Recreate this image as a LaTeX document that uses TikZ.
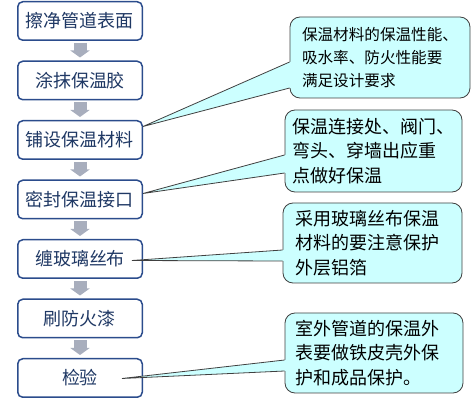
\documentclass[tikz,border=0pt]{standalone}
\usepackage{fontspec}
\setmainfont{Noto Sans CJK SC}
\usetikzlibrary{arrows.meta, positioning, calc}
\definecolor{boxline}{HTML}{2B4C8C}
\definecolor{boxtext}{HTML}{1F3864}
\definecolor{notefill}{HTML}{CCFFFF}
\definecolor{noteline}{HTML}{404040}
\definecolor{flowgray}{HTML}{A8AEBD}
\tikzset{box/.style={rectangle,draw=boxline,line width=1.5pt,rounded corners=5pt,fill=white,text=boxtext,font=\fontsize{18pt}{22pt}\selectfont,minimum width=124.5pt,minimum height=38.5pt,inner sep=0pt},line/.style={draw=flowgray,line width=13pt,shorten <=2pt,shorten >=3pt,-{Triangle[length=7pt 0 0,width=19pt 0 0]}},note/.style={rectangle,draw=noteline,line width=0.8pt,rounded corners=10pt,fill=notefill,align=left,inner ysep=0pt,font=\fontsize{18pt}{24.5pt}\selectfont},pointer/.style={draw=noteline,line width=0.8pt}}

\begin{document}
\begin{tikzpicture}[x=1pt,y=-1pt,node distance=19.5pt]
\useasboundingbox (0,0) rectangle (475,401);
\node[box] (s1) at (80,21) {擦净管道表面};
\node[box, below=of s1] (s2) {涂抹保温胶};
\node[box, below=of s2] (s3) {铺设保温材料};
\node[box, below=of s3] (s4) {密封保温接口};
\node[box, below=of s4] (s5) {缠玻璃丝布};
\node[box, below=of s5] (s6) {刷防火漆};
\node[box, below=of s6] (s7) {检验};
\draw[line] (s1) -- (s2);
\draw[line] (s2) -- (s3);
\draw[line] (s3) -- (s4);
\draw[line] (s4) -- (s5);
\draw[line] (s5) -- (s6);
\draw[line] (s6) -- (s7);
\node[note, text width=156pt, inner xsep=12pt, minimum height=81pt, font=\fontsize{15.6pt}{23pt}\selectfont] (n1) at (380,57.5) {保温材料的保温性能、\\吸水率、防火性能要\\满足设计要求};
\node[note, text width=162pt, inner xsep=7.5pt, minimum height=82pt] (n2) at (373.5,151) {保温连接处、阀门、\\弯头、穿墙出应重\\点做好保温};
\node[note, text width=155pt, inner xsep=12pt, minimum height=80pt] (n3) at (372.5,243) {采用玻璃丝布保温\\材料的要注意保护\\外层铝箔};
\node[note, text width=158pt, inner xsep=10pt, minimum height=80pt] (n4) at (374,353) {室外管道的保温外\\表要做铁皮壳外保\\护和成品保护。};
\coordinate (t1) at ($(s3.east)+(0,-13.5)$);
\coordinate (t2) at ($(s4.east)+(0,-6)$);
\coordinate (t3) at ($(s5.east)+(-11,1.5)$);
\coordinate (t4) at ($(s7.east)+(-21,0.5)$);
\coordinate (n1a) at ($(n1.west)+(0,4.5)$);
\coordinate (n1b) at ($(n1.west)+(0,30.5)$);
\coordinate (n2a) at ($(n2.west)+(0,4)$);
\coordinate (n2b) at ($(n2.west)+(0,22)$);
\coordinate (n3a) at ($(n3.west)+(0,7)$);
\coordinate (n3b) at ($(n3.west)+(0,18)$);
\coordinate (n4a) at ($(n4.west)+(0,7)$);
\coordinate (n4b) at ($(n4.west)+(0,18)$);
\fill[notefill] ($(n1a)+(1.5,0)$) -- (n1a) -- (t1) -- (n1b) -- ($(n1b)+(1.5,0)$) -- cycle;
\fill[notefill] ($(n2a)+(1.5,0)$) -- (n2a) -- (t2) -- (n2b) -- ($(n2b)+(1.5,0)$) -- cycle;
\fill[notefill] ($(n3a)+(1.5,0)$) -- (n3a) -- (t3) -- (n3b) -- ($(n3b)+(1.5,0)$) -- cycle;
\fill[notefill] ($(n4a)+(1.5,0)$) -- (n4a) -- (t4) -- (n4b) -- ($(n4b)+(1.5,0)$) -- cycle;
\draw[pointer] (n1a) -- (t1) -- (n1b);
\draw[pointer] (n2a) -- (t2) -- (n2b);
\draw[pointer] (n3a) -- (t3) -- (n3b);
\draw[pointer] (n4a) -- (t4) -- (n4b);
\end{tikzpicture}
\end{document}
